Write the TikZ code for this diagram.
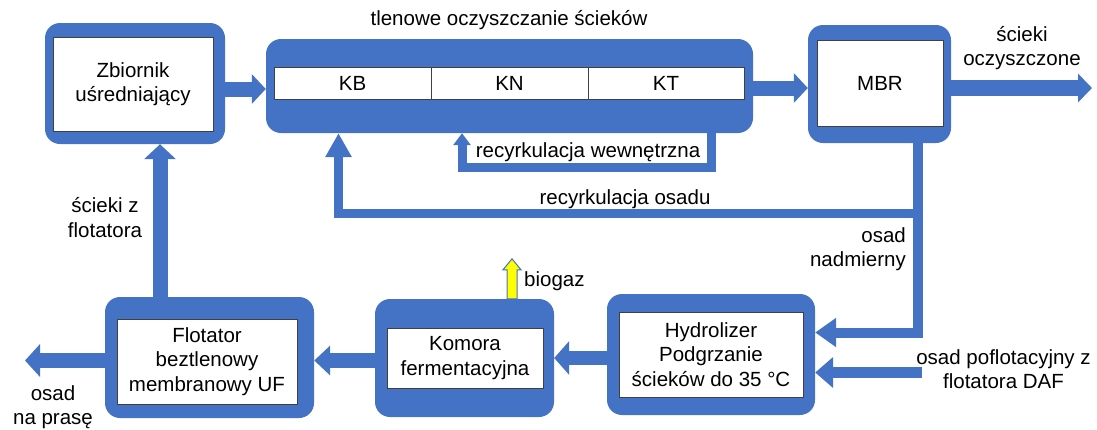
\documentclass[tikz,border=0pt]{standalone}
\usepackage{fontspec}
\setmainfont{Liberation Sans}
\usetikzlibrary{arrows.meta,calc}
\definecolor{ublue}{HTML}{4472C4}
\definecolor{uyellow}{HTML}{FFFF00}
\newcommand\diaFont{\fontsize{20.5}{24.5}\selectfont}
\begin{document}
\begin{tikzpicture}[x=1pt,y=-1pt,
  outerbox/.style={fill=ublue, rounded corners=15pt, inner sep=0pt, draw=none},
  innerbox/.style={fill=white, draw=black!75, line width=0.8pt, inner sep=0pt, align=center, font=\diaFont},
  lbl/.style={font=\diaFont, inner sep=0pt, align=center},
  flow/.style={draw=ublue, line width=15pt, -{Triangle[width=30pt,length=15pt]}},
  pipe/.style={draw=ublue, line width=10pt},
]
\useasboundingbox (0,0) rectangle (1097,429);

% boxes
\node[outerbox, minimum width=180pt, minimum height=121pt] (zbO) at (135,83.5) {};
\node[innerbox, minimum width=160pt, minimum height=94pt] (zb) at (133,84) {Zbiornik\\uśredniający};

\node[outerbox, minimum width=487pt, minimum height=94pt] (aeO) at (509.5,86) {};
\node[innerbox, minimum width=157pt, minimum height=32pt] (kb) at (352.5,83) {KB};
\node[innerbox, minimum width=157pt, minimum height=32pt] (kn) at (509.5,83) {KN};
\node[innerbox, minimum width=156pt, minimum height=32pt] (kt) at (666,83) {KT};

\node[outerbox, minimum width=143pt, minimum height=118pt] (mbrO) at (879.5,84) {};
\node[innerbox, minimum width=126pt, minimum height=86pt] (mbr) at (880,83) {MBR};

\node[outerbox, minimum width=209pt, minimum height=121pt] (flO) at (209.5,357.5) {};
\node[innerbox, minimum width=180pt, minimum height=85pt] (fl) at (207,361.5) {Flotator\\beztlenowy\\membranowy UF};

\node[outerbox, minimum width=179pt, minimum height=118pt] (koO) at (464.5,358) {};
\node[innerbox, minimum width=156pt, minimum height=60pt] (ko) at (465,358) {Komora\\fermentacyjna};

\node[outerbox, minimum width=208pt, minimum height=121pt] (hyO) at (711,354.5) {};
\node[innerbox, minimum width=184pt, minimum height=85pt] (hy) at (711,354.5) {Hydrolizer\\Podgrzanie\\ścieków do 35 °C};

% free ends
\coordinate (out1) at (1092,88);
\coordinate (out2) at (25,360.5);
\coordinate (daf) at (922,372.5);

% main flows
\draw[flow, -{Triangle[width=29pt,length=14pt]}] ($(zbO.east)+(0,5.5)$) -- ($(aeO.west)+(0,3)$);
\draw[flow, -{Triangle[width=29pt,length=14pt]}] ($(aeO.east)+(0,2)$) -- ($(mbrO.west)+(0,4)$);
\draw[flow, line width=16pt, -{Triangle[width=28pt,length=14pt]}] ($(mbrO.east)+(0,4)$) -- (out1);
\draw[flow, -{Triangle[width=31pt,length=15pt]}] ($(flO.north)+(-49.5,0)$) -- ($(zbO.south)+(25,0)$);
\draw[flow, -{Triangle[width=29pt,length=16pt]}] ($(koO.west)+(0,2.5)$) -- ($(flO.east)+(0,3)$);
\draw[flow, -{Triangle[width=32pt,length=15pt]}] ($(flO.west)+(0,3)$) -- (out2);
\draw[flow, line width=14pt, -{Triangle[width=33pt,length=15pt]}] ($(hyO.west)+(0,3.5)$) -- (koO.east);
\draw[flow, line width=11pt, -{Triangle[width=30pt,length=18pt]}] (daf) -- ($(hyO.east)+(0,18)$);

% sludge lines
\draw[pipe, -{Triangle[width=28pt,length=21pt]}] ($(mbrO.south)+(38.5,0)$) |- ($(hyO.east)+(0,-22)$);
\draw[pipe, line width=9pt, -{Triangle[width=25pt,length=24pt]}] ($(mbrO.south)+(38.5,70.5)$) -| ($(aeO.south)+(-171,0)$);
\draw[pipe, line width=9pt, -{Triangle[width=17pt,length=12pt]}] ($(aeO.south)+(201.5,0)$) -- ++(0,34) -| ($(aeO.south)+(-47.5,0)$);

% biogas
\coordinate (bg) at ($(koO.north)+(47.5,0)$);
\draw[fill=uyellow, draw=ublue, line width=1pt] ($(bg)+(-5,0)$) -- ++(0,-29) -- ++(-4,0) -- ++(9,-11) -- ++(9,11) -- ++(-4,0) -- ++(0,29) -- cycle;

% labels
\node[lbl] (t1) at (509,20) {tlenowe oczyszczanie ścieków};
\node[lbl] (t2) at (1022,48) {ścieki\\oczyszczone};
\node[lbl] (t3) at (588,152) {recyrkulacja wewnętrzna};
\node[lbl] (t4) at (625,199) {recyrkulacja osadu};
\node[lbl] (t5) at (105,217.5) {ścieki z\\flotatora};
\node[lbl, align=right, anchor=east] (t6) at (906,249) {osad\\nadmierny};
\node[lbl, anchor=west] (t7) at (524,281) {biogaz};
\node[lbl] (t8) at (1003.5,369) {osad poflotacyjny z\\flotatora DAF};
\node[lbl] (t9) at (53,407) {osad\\na prasę};
\end{tikzpicture}
\end{document}
